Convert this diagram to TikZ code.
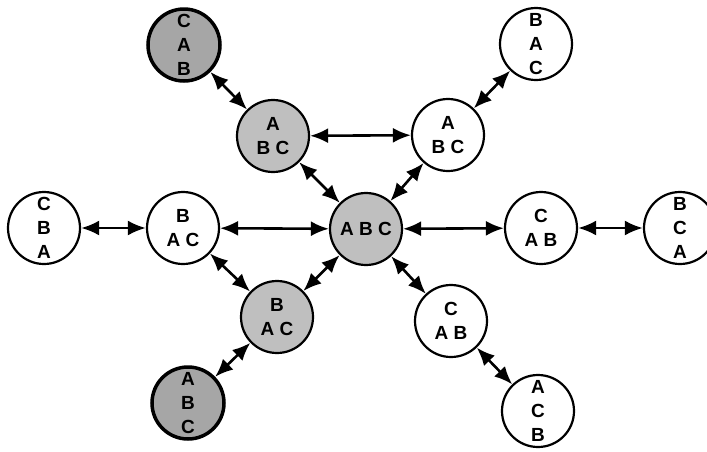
\documentclass[tikz,border=0pt]{standalone}
\usepackage{fontspec}
\setmainfont{Liberation Sans}
\usetikzlibrary{arrows.meta}
\usetikzlibrary{math}

\tikzset{
  perm/.style={circle, draw, line width=2.2pt, minimum size=2*\r pt, inner sep=0pt,
    align=center, font=\fontsize{19}{24}\selectfont\bfseries},
  shaded/.style={perm, fill=black!25},
  dark/.style={perm, fill=black!35, line width=3.5pt},
  swap/.style={{Latex[length=18pt,width=15pt]}-{Latex[length=18pt,width=15pt]}, line width=2.6pt}
}

\begin{document}
\begin{tikzpicture}[x=1pt, y=-1pt]
\tikzmath{
\r=36;
}
\useasboundingbox (0,0) rectangle (707,451);
%states
\node[dark]   (cab)  at (184,45)  {C\\A\\B};
\node[perm]   (bac)  at (536,44)  {B\\A\\C};
\node[shaded] (abcS) at (273,136) {A\\B C};
\node[perm]   (abcW) at (448,135) {A\\B C};
\node[perm]   (cba)  at (44,228)  {C\\B\\A};
\node[perm]   (bacW) at (183,228) {B\\A C};
\node[shaded] (abc)  at (366,229) {A B C};
\node[perm]   (cabW) at (541,228) {C\\A B};
\node[perm]   (bca)  at (680,228) {B\\C\\A};
\node[shaded] (bacS) at (277,317) {B\\A C};
\node[perm]   (cabL) at (451,321) {C\\A B};
\node[dark]   (abcD) at (188,403) {A\\B\\C};
\node[perm]   (acb)  at (538,411) {A\\C\\B};

%moves
\draw[swap] (cab) -- (abcS);
\draw[swap] (abcS) -- (abcW);
\draw[swap] (bac) -- (abcW);
\draw[swap] (abcS) -- (abc);
\draw[swap] (abcW) -- (abc);
\draw[swap] (cba) -- (bacW);
\draw[swap] (bacW) -- (abc);
\draw[swap] (abc) -- (cabW);
\draw[swap] (cabW) -- (bca);
\draw[swap] (bacW) -- (bacS);
\draw[swap] (bacS) -- (abc);
\draw[swap] (abc) -- (cabL);
\draw[swap] (cabL) -- (acb);
\draw[swap] (bacS) -- (abcD);
\end{tikzpicture}
\end{document}
